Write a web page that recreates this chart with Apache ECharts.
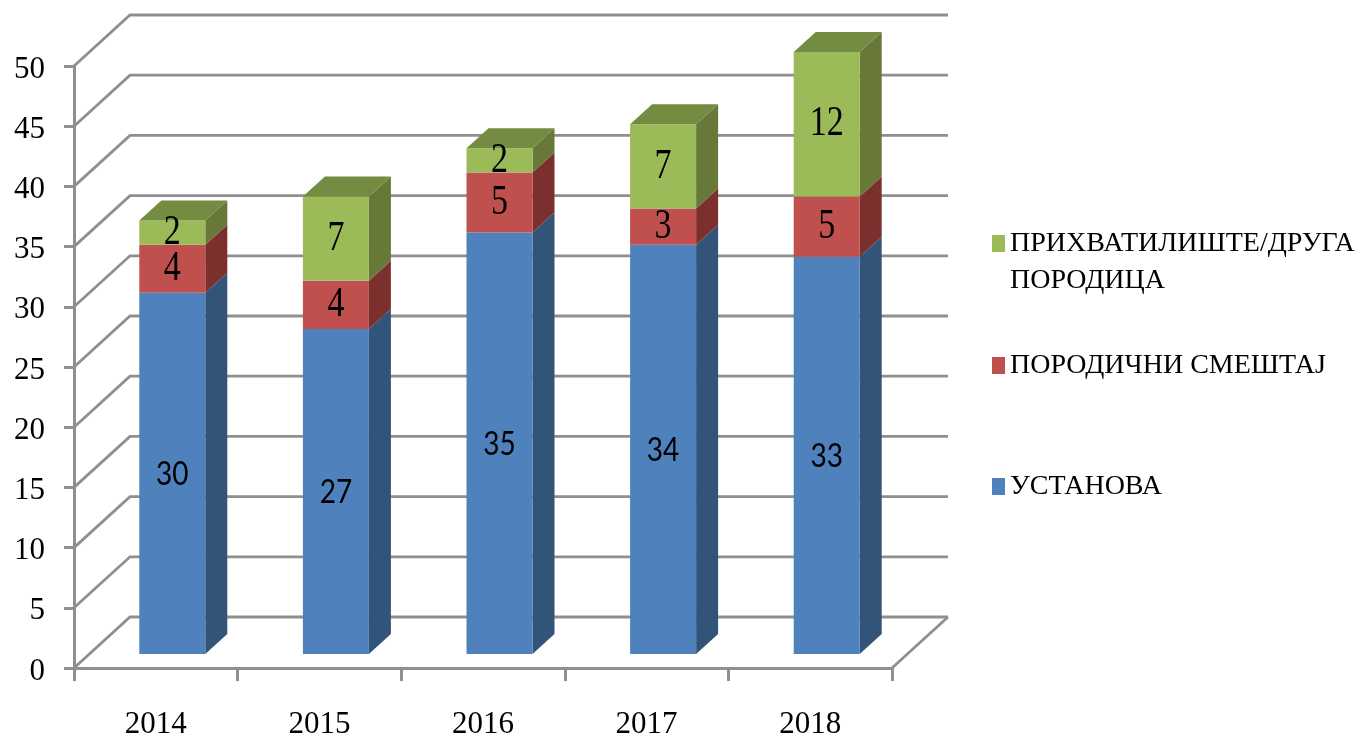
<!DOCTYPE html>
<html>
<head>
<meta charset="utf-8">
<style>html,body{margin:0;padding:0;background:#fff}#chart{width:1365px;height:741px}</style>
<script src="https://cdn.jsdelivr.net/npm/echarts@6/dist/echarts.min.js"></script>
</head>
<body>
<div id="chart"></div>
<script>
var years = ['2014', '2015', '2016', '2017', '2018'];
var ustanova = [30, 27, 35, 34, 33];
var porodicni = [4, 4, 5, 3, 5];
var prihvat = [2, 7, 2, 7, 12];
var yTicks = [0, 5, 10, 15, 20, 25, 30, 35, 40, 45, 50];

var SERIF = '"Liberation Serif", serif';
var GRID_COLOR = '#8f8f8f';
// pseudo 3d: wall depth and bar depth, in px
var WALL_DX = 56, WALL_DY = -51;
var BAR_DX = 22, BAR_DY = -20;
var BAR_SHIFT_X = 16.5, BAR_SHIFT_Y = -14, BAR_W = 66;

function wallItem(params, api) {
    var cs = params.coordSys;
    var p = api.coord([0, api.value(0)]);
    var x0 = cs.x, y = p[1];
    return {
        type: 'polyline',
        silent: true,
        shape: {points: [[x0, y], [x0 + WALL_DX, y + WALL_DY], [cs.x + cs.width + WALL_DX, y + WALL_DY]]},
        style: {stroke: GRID_COLOR, lineWidth: 2.8, fill: null}
    };
}

function floorEdge(params, api) {
    var cs = params.coordSys;
    var p = api.coord([0, 0]);
    var xr = cs.x + cs.width;
    return {
        type: 'line',
        silent: true,
        shape: {x1: xr, y1: p[1], x2: xr + WALL_DX, y2: p[1] + WALL_DY},
        style: {stroke: GRID_COLOR, lineWidth: 2.8}
    };
}

function barItem(front, side, top, font, scaleY, dy) {
    return function (params, api) {
        var i = api.value(0);
        var a = api.coord([i, api.value(1)]);
        var b = api.coord([i, api.value(2)]);
        var l = a[0] + BAR_SHIFT_X - BAR_W / 2, r = l + BAR_W;
        var y0 = a[1] + BAR_SHIFT_Y, y1 = b[1] + BAR_SHIFT_Y;
        var kids = [
            {type: 'polygon', shape: {points: [[r, y0], [r + BAR_DX, y0 + BAR_DY], [r + BAR_DX, y1 + BAR_DY], [r, y1]]}, style: {fill: side}},
            {type: 'rect', shape: {x: l, y: y1, width: BAR_W, height: y0 - y1}, style: {fill: front}}
        ];
        if (top) {
            kids.push({type: 'polygon', shape: {points: [[l, y1], [l + BAR_DX, y1 + BAR_DY], [r + BAR_DX, y1 + BAR_DY], [r, y1]]}, style: {fill: top}});
        }
        kids.push({
            type: 'text',
            x: (l + r) / 2, y: (y0 + y1) / 2 + dy,
            scaleY: scaleY,
            style: {
                text: String(api.value(2) - api.value(1)),
                align: 'center', verticalAlign: 'middle',
                font: font,
                fill: '#000'
            }
        });
        return {type: 'group', children: kids};
    };
}

function stackData(values, base) {
    return values.map(function (v, i) {
        return [i, base[i], base[i] + v];
    });
}
var base1 = ustanova;
var base2 = ustanova.map(function (v, i) { return v + porodicni[i]; });
var zeros = ustanova.map(function () { return 0; });

var names = ['ПРИХВАТИЛИШТЕ/ДРУГА\nПОРОДИЦА', 'ПОРОДИЧНИ СМЕШТАЈ', 'УСТАНОВА'];

function legendAt(name, top, fmt) {
    return {
        data: [name],
        left: 992, top: top,
        padding: 0,
        icon: 'rect',
        itemWidth: 13, itemHeight: 17, itemGap: 0,
        selectedMode: false,
        formatter: fmt,
        textStyle: {fontFamily: SERIF, fontSize: 28, color: '#000', lineHeight: 37}
    };
}

var option = {
    animation: false,
    backgroundColor: '#fff',
    grid: {left: 74, right: 473, top: 66, bottom: 73},
    legend: [
        // blank first line keeps the marker level with the first text line
        legendAt(names[0], 188, function (n) { return '\n' + n; }),
        legendAt(names[1], 347),
        legendAt(names[2], 468)
    ],
    xAxis: {
        type: 'category',
        data: years,
        axisLine: {lineStyle: {color: GRID_COLOR, width: 3}},
        axisTick: {show: true, length: 13, lineStyle: {color: GRID_COLOR, width: 3}},
        axisLabel: {fontFamily: SERIF, fontSize: 31, color: '#000', margin: 41}
    },
    yAxis: {
        type: 'value',
        min: 0, max: 50, interval: 5,
        axisLine: {show: true, lineStyle: {color: GRID_COLOR, width: 3}},
        axisTick: {show: true, length: 10, lineStyle: {color: GRID_COLOR, width: 3}},
        axisLabel: {
            color: '#000', margin: 29,
            formatter: '{v|{value}}',
            // top padding pushes the digits down to sit on their tick
            rich: {v: {fontFamily: SERIF, fontSize: 31, color: '#000', padding: [7, 0, 0, 0]}}
        },
        splitLine: {show: false}
    },
    series: [
        {type: 'custom', name: 'walls', data: yTicks, renderItem: wallItem, silent: true, z: 1, encode: {y: 0}},
        {type: 'custom', name: 'floor', data: [0], renderItem: floorEdge, silent: true, z: 1, encode: {y: 0}},
        {
            type: 'custom', name: names[2],
            itemStyle: {color: '#4F81BD'},
            data: stackData(ustanova, zeros),
            renderItem: barItem('#4F81BD', '#325479', null, '28px Lato, sans-serif', 1.15, 1),
            encode: {x: 0, y: [1, 2]}, z: 3
        },
        {
            type: 'custom', name: names[1],
            itemStyle: {color: '#C0504D'},
            data: stackData(porodicni, base1),
            renderItem: barItem('#C0504D', '#7B302E', null, '34px ' + SERIF, 1.25, 0),
            encode: {x: 0, y: [1, 2]}, z: 3
        },
        {
            type: 'custom', name: names[0],
            itemStyle: {color: '#9BBB59'},
            data: stackData(prihvat, base2),
            renderItem: barItem('#9BBB59', '#677839', '#748C42', '34px ' + SERIF, 1.25, 0),
            encode: {x: 0, y: [1, 2]}, z: 3
        }
    ]
};

var chart = echarts.init(document.getElementById('chart'));
chart.setOption(option);
</script>
</body>
</html>
